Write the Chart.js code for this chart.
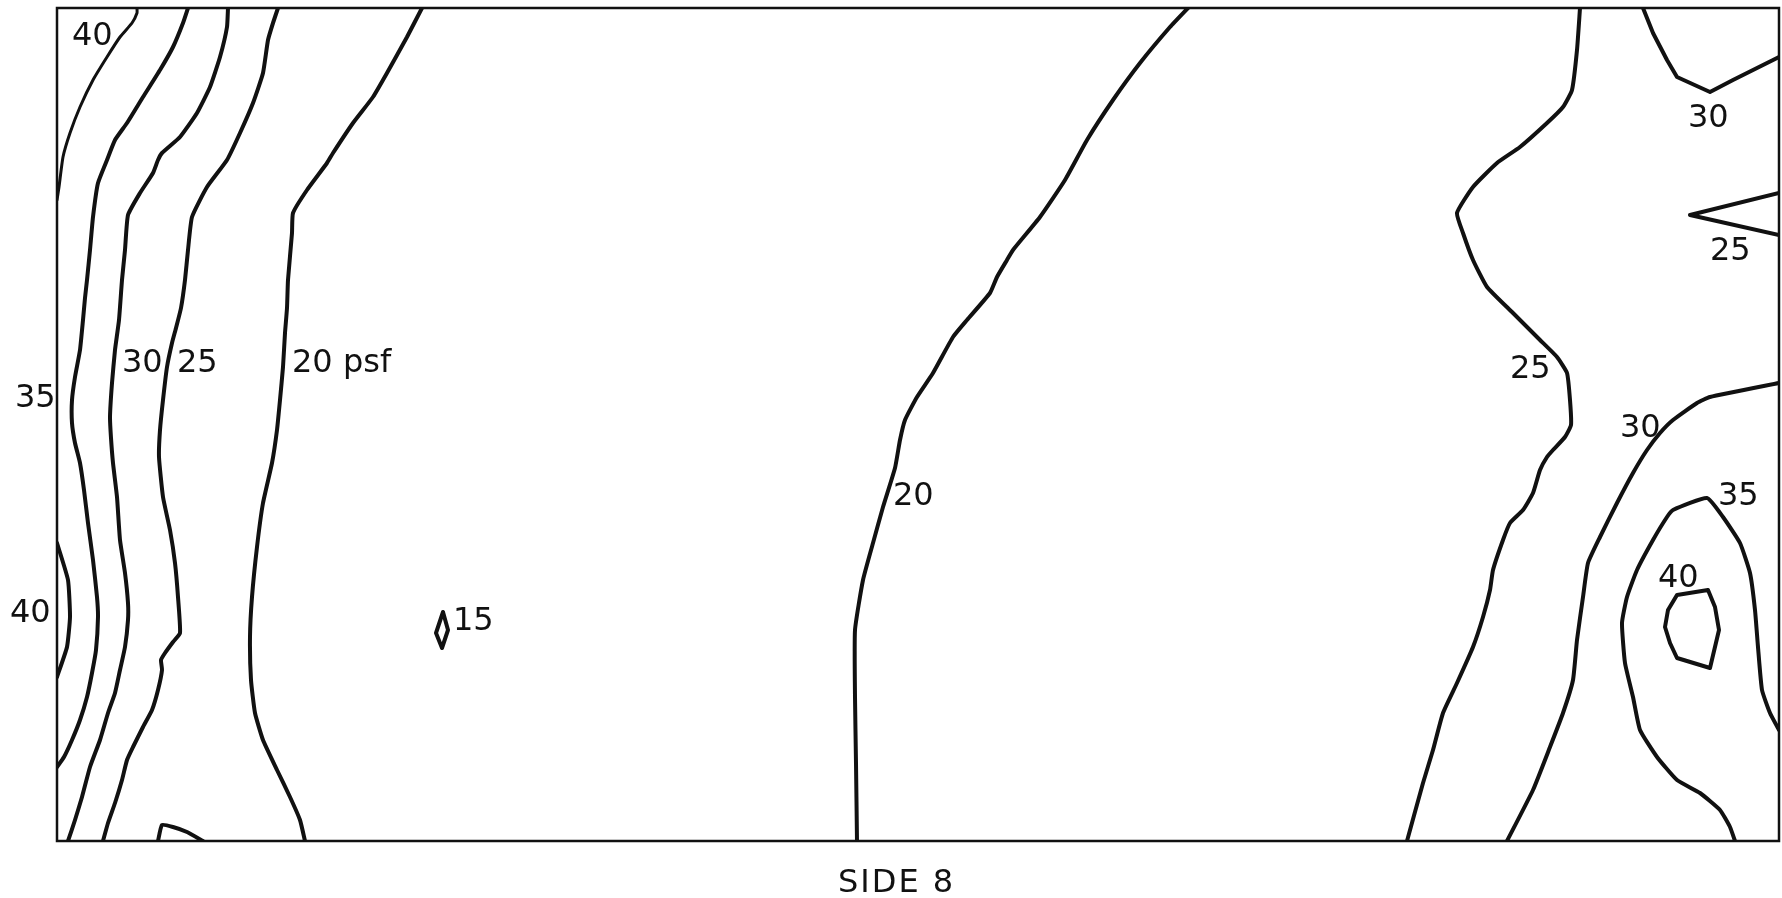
<!DOCTYPE html>
<html lang="en">
<head>
<meta charset="UTF-8">
<title>Side 8 - pressure contours</title>
<script src="https://cdn.jsdelivr.net/npm/chart.js"></script>
<style>
  html, body { margin: 0; padding: 0; background: #fff; }
  #wrap { width: 1782px; height: 898px; position: relative; }
</style>
</head>
<body>
<div id="wrap"><canvas id="contourChart"></canvas></div>
<script>
// panel extent: x along the side, y measured down from the top edge
const sideWidth = 1722;
const sideHeight = 833;

// contour lines as [x, y] pairs (psf level in the name)
const c40TopLeft = [[80,0],[80,5],[75,15],[63,29],[50,49],[36,72],[23,99],[13,125],[6,149],[2,179],[0,192]];
const c40LeftEdge = [[0,535],[11,572],[13,609],[10,639],[0,669]];
const c35Left = [[131,0],[126,15],[116,39],[103,62],[86,89],[70,115],[58,132],[50,152],[41,175],[36,209],[33,242],[30,272],[28,290],[26,312],[23,342],[18,369],[15,392],[15,415],[18,435],[23,455],[27,482],[31,515],[36,552],[40,589],[41,609],[39,642],[35,665],[30,689],[23,712],[15,732],[7,749],[0,759]];
const c30Left = [[171,0],[170,19],[163,49],[153,79],[140,105],[123,129],[105,145],[101,152],[96,165],[83,185],[71,207],[68,242],[65,272],[62,312],[58,342],[55,375],[53,409],[54,430],[56,455],[60,489],[63,532],[68,565],[71,595],[71,612],[68,639],[63,662],[58,685],[51,705],[43,732],[33,759],[25,789],[18,812],[11,833]];
const c25Left = [[221,0],[216,15],[211,32],[206,65],[196,95],[183,125],[170,152],[150,179],[135,209],[131,242],[128,272],[124,300],[119,320],[115,335],[110,359],[106,392],[103,422],[102,449],[106,489],[113,522],[118,555],[121,589],[123,625],[116,634],[108,645],[104,652],[105,662],[101,682],[95,702],[86,719],[76,739],[70,752],[65,772],[58,795],[51,815],[46,833]];
const c25Bump = [[101,833],[105,817],[116,819],[130,824],[146,833]];
const c20Left = [[365,0],[350,29],[330,65],[316,89],[296,115],[276,145],[270,155],[250,182],[236,205],[235,225],[231,272],[230,300],[228,325],[226,359],[223,392],[220,422],[215,455],[206,495],[200,539],[195,589],[193,629],[194,672],[198,705],[206,732],[220,762],[233,789],[243,812],[248,833]];
const c15Island = [[386,604],[391,622],[385,640],[379,625],[386,604]];
const c20Middle = [[1131,0],[1113,19],[1083,55],[1056,92],[1030,132],[1008,172],[983,209],[956,242],[950,252],[940,269],[933,285],[910,312],[896,329],[876,365],[860,389],[848,412],[843,432],[838,460],[826,499],[816,535],[806,572],[798,622],[798,689],[799,755],[800,833]];
const c25Right = [[1523,0],[1520,42],[1515,82],[1506,99],[1490,115],[1463,139],[1440,155],[1416,179],[1400,205],[1406,225],[1416,252],[1430,279],[1456,305],[1483,332],[1500,349],[1510,365],[1513,392],[1514,417],[1508,429],[1496,442],[1490,449],[1483,462],[1476,485],[1466,502],[1453,515],[1446,532],[1436,562],[1433,582],[1426,609],[1416,639],[1400,675],[1386,705],[1376,742],[1366,775],[1350,833]];
const c30TopRight = [[1586,0],[1596,25],[1610,52],[1620,69],[1653,84],[1676,72],[1722,49]];
const c25Wedge = [[1722,185],[1633,207],[1722,227]];
const c30Right = [[1722,375],[1653,389],[1640,395],[1616,412],[1603,425],[1590,442],[1576,465],[1560,495],[1543,529],[1531,555],[1526,589],[1520,632],[1516,672],[1506,705],[1493,739],[1476,782],[1450,833]];
const c35Right = [[1678,833],[1673,819],[1663,802],[1643,785],[1620,772],[1600,749],[1583,722],[1576,689],[1568,655],[1565,615],[1570,589],[1580,562],[1596,532],[1610,509],[1616,502],[1650,490],[1666,509],[1683,535],[1693,565],[1698,602],[1701,639],[1705,682],[1713,705],[1722,722]];
const c40Right = [[1620,587],[1651,582],[1658,599],[1662,622],[1653,660],[1620,650],[1613,635],[1608,619],[1611,602],[1620,587]];

// level labels: text, left x, baseline y
const contourLabels = [
  ['40', 15, 37], ['30', 65, 364], ['25', 120, 364], ['20 psf', 235, 364],
  ['35', -42, 399], ['40', -47, 614], ['15', 396, 622], ['20', 836, 497],
  ['30', 1631, 119], ['25', 1653, 252], ['25', 1453, 370], ['30', 1563, 429],
  ['35', 1661, 497], ['40', 1601, 579]
];
const caption = 'SIDE 8';

const curves = [c40TopLeft, c40LeftEdge, c35Left, c30Left, c25Left, c25Bump, c20Left,
  c15Island, c20Middle, c25Right, c30TopRight, c25Wedge, c30Right, c35Right, c40Right];
const polygons = [c15Island, c40Right, c25Wedge, c30TopRight];

const datasets = curves.map(pts => ({
  data: pts.map(([x, y]) => ({ x, y })),
  showLine: true,
  fill: false,
  borderColor: '#111',
  borderWidth: pts === c40TopLeft ? 3 : 4,
  pointRadius: 0,
  tension: polygons.includes(pts) ? 0 : 0.15,
  borderJoinStyle: 'round',
  borderCapStyle: 'round'
}));

const sidePanel = {
  id: 'sidePanel',
  beforeDatasetsDraw(chart) {
    const { ctx, chartArea: a } = chart;
    ctx.save();
    ctx.strokeStyle = '#111';
    ctx.lineWidth = 2.5;
    ctx.strokeRect(a.left, a.top, a.right - a.left, a.bottom - a.top);
    ctx.restore();
  },
  afterDatasetsDraw(chart) {
    const { ctx, scales: { x, y } } = chart;
    ctx.save();
    ctx.fillStyle = '#111';
    ctx.font = '32px "DejaVu Sans"';
    ctx.textAlign = 'left';
    ctx.textBaseline = 'alphabetic';
    contourLabels.forEach(([t, vx, vy]) => {
      ctx.fillText(t, x.getPixelForValue(vx), y.getPixelForValue(vy));
    });
    ctx.letterSpacing = '2px';
    ctx.fillText(caption, x.getPixelForValue(781), y.getPixelForValue(884));
    ctx.restore();
  }
};

new Chart(document.getElementById('contourChart'), {
  type: 'scatter',
  data: { datasets },
  options: {
    responsive: true,
    maintainAspectRatio: false,
    animation: false,
    layout: { padding: { left: 57, top: 8, right: 3, bottom: 57 } },
    plugins: { legend: { display: false }, tooltip: { enabled: false } },
    scales: {
      x: { type: 'linear', min: 0, max: sideWidth, display: false },
      y: { type: 'linear', min: 0, max: sideHeight, reverse: true, display: false }
    }
  },
  plugins: [sidePanel]
});
</script>
</body>
</html>
